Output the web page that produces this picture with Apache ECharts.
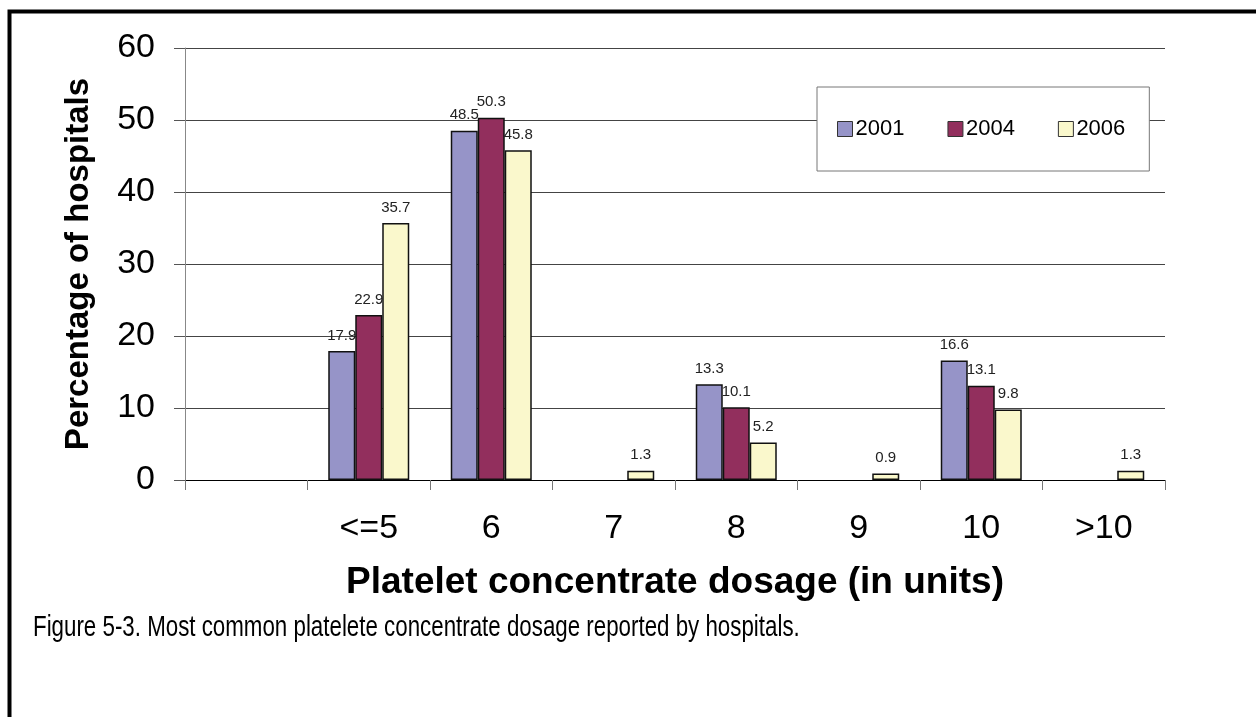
<!DOCTYPE html>
<html>
<head>
<meta charset="utf-8">
<script src="https://cdn.jsdelivr.net/npm/echarts@6/dist/echarts.min.js"></script>
<style>
html,body{margin:0;padding:0;background:#fff;}
#main{width:1256px;height:717px;}
</style>
</head>
<body>
<div id="main"></div>
<script>
var categories = ['', '<=5', '6', '7', '8', '9', '10', '>10'];
var seriesNames = ['2001', '2004', '2006'];
var values2001 = ['-', 17.9, 48.5, '-', 13.3, '-', 16.6, '-'];
var values2004 = ['-', 22.9, 50.3, '-', 10.1, '-', 13.1, '-'];
var values2006 = ['-', 35.7, 45.8, 1.3, 5.2, 0.9, 9.8, 1.3];
var colors = ['#9694c8', '#922f5d', '#faf8cc'];
var yTicks = [0, 60, 10];
var caption = 'Figure 5-3. Most common platelete concentrate dosage reported by hospitals.';

var chart = echarts.init(document.getElementById('main'), null, {renderer: 'canvas'});
function mk(name, data, color) {
  return {
    name: name, type: 'bar', data: data, barWidth: 27, barGap: '0%',
    itemStyle: {color: color, borderColor: '#111', borderWidth: 1.5},
    label: {show: true, position: 'top', distance: 8, fontFamily: 'Liberation Sans, Arial', fontSize: 15, color: '#222'}
  };
}
chart.setOption({
  animation: false,
  backgroundColor: '#fff',
  grid: {left: 185, right: 91, top: 48, bottom: 237},
  legend: {
    data: seriesNames, left: 817, top: 87,
    orient: 'horizontal',
    padding: [31, 24, 31, 20],
    itemGap: 43, itemWidth: 15, itemHeight: 15,
    backgroundColor: '#fff', borderColor: '#777', borderWidth: 1,
    icon: 'rect',
    itemStyle: {borderColor: '#333', borderWidth: 1},
    textStyle: {fontFamily: 'Liberation Sans, Arial', fontSize: 22, color: '#000', padding: [0,0,0,-2]}
  },
  xAxis: {
    type: 'category', data: categories,
    name: 'Platelet concentrate dosage (in units)', nameLocation: 'middle', nameGap: 84,
    nameTextStyle: {fontFamily: 'Liberation Sans, Arial', fontWeight: 'bold', fontSize: 37, color: '#000'},
    axisLine: {lineStyle: {color: '#000', width: 1}},
    axisTick: {show: true, alignWithLabel: false, length: 10, lineStyle: {color: '#777'}},
    axisLabel: {fontFamily: 'Liberation Sans, Arial', fontSize: 34, color: '#000', margin: 32, interval: 0},
    splitLine: {show: false}
  },
  yAxis: {
    type: 'value', min: yTicks[0], max: yTicks[1], interval: yTicks[2],
    name: 'Percentage of hospitals', nameLocation: 'middle', nameGap: 90,
    nameTextStyle: {fontFamily: 'Liberation Sans, Arial', fontWeight: 'bold', fontSize: 33, color: '#000'},
    axisLine: {show: true, lineStyle: {color: '#888', width: 1}},
    axisTick: {show: true, length: 11, lineStyle: {color: '#555'}},
    axisLabel: {fontFamily: 'Liberation Sans, Arial', fontSize: 34, color: '#000', margin: 30},
    splitLine: {show: true, lineStyle: {color: '#444', width: 1}}
  },
  series: [mk(seriesNames[0], values2001, colors[0]), mk(seriesNames[1], values2004, colors[1]), mk(seriesNames[2], values2006, colors[2])],
  graphic: [
    {type: 'rect', left: 7, top: 9, z: 100, silent: true,
     shape: {x: 0, y: 0, width: 1400, height: 900},
     style: {fill: 'none', stroke: '#000', lineWidth: 4}},
    {type: 'text', position: [33, 613], scaleX: 0.744, scaleY: 1, z: 100,
     style: {x: 0, y: 0, text: caption, textVerticalAlign: 'top', verticalAlign: 'top',
             font: '30px "Liberation Sans", Arial, sans-serif', fill: '#000'}}
  ]
});
</script>
</body>
</html>
